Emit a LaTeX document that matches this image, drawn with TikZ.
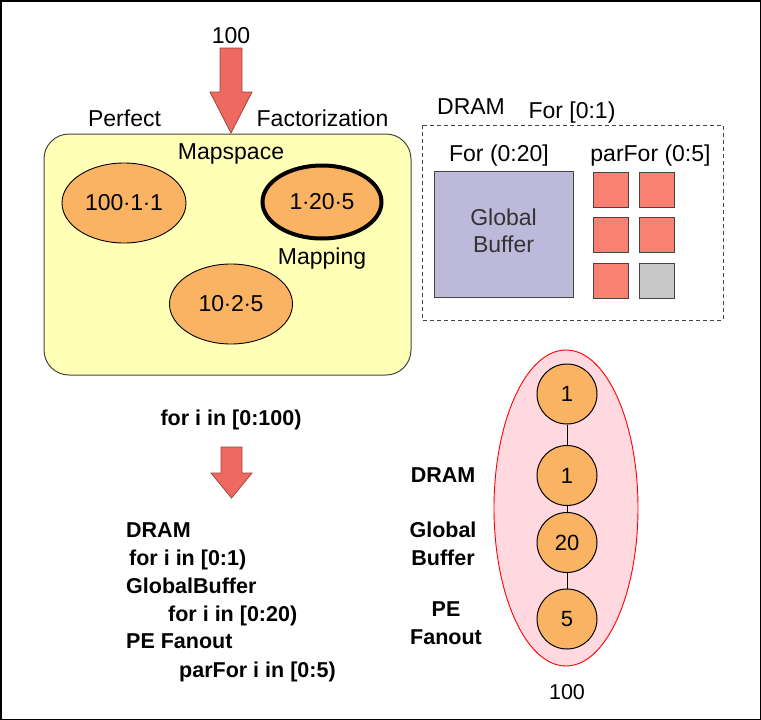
\documentclass[tikz,border=0pt]{standalone}
\usepackage{fontspec}
\setmainfont{Liberation Sans}
\usetikzlibrary{shapes.geometric}
\definecolor{arrowred}{HTML}{EE6A60}
\definecolor{arrowline}{HTML}{A0453D}
\definecolor{mapyellow}{HTML}{FFFFB5}
\definecolor{ellorange}{HTML}{FAB363}
\definecolor{gblav}{HTML}{BDB9DA}
\definecolor{pesalmon}{HTML}{FA8072}
\definecolor{pegray}{HTML}{C8C8C8}
\definecolor{loopink}{HTML}{FFD9DF}
\definecolor{edgegray}{HTML}{444444}
\tikzset{
  txt/.style={font=\fontsize{23}{27}\selectfont, inner sep=0pt, anchor=base},
  btxt/.style={font=\fontsize{21.5}{26}\selectfont\bfseries, inner sep=0pt, anchor=base},
  blefttxt/.style={btxt, anchor=base west},
  factell/.style={ellipse, draw=black, fill=ellorange, line width=0.9pt, inner sep=0pt, font=\fontsize{23}{27}\selectfont},
  pebox/.style={draw=edgegray, fill=pesalmon, line width=0.9pt, minimum size=35pt, inner sep=0pt},
  loopcirc/.style={circle, draw=black, fill=ellorange, line width=1pt, minimum size=60pt, inner sep=0pt, font=\fontsize{22}{26}\selectfont},
  blockarrow/.style={fill=arrowred, draw=arrowline, line width=0.8pt, line join=miter}
}
\begin{document}
\begin{tikzpicture}[x=1pt,y=-1pt]
\useasboundingbox (0,0) rectangle (761,720);
\draw[line width=1.5pt] (0.75,0.75) rectangle (760.25,719.25);

% top arrow
\node[txt] (n100top) at (231,43) {100};
\draw[blockarrow] (220,48) -- (242,48) -- (242,92) -- (252,92) -- (231,133) -- (210,92) -- (220,92) -- cycle;
\node[txt] (perfect) at (124.5,126) {Perfect};
\node[txt] (factor) at (322.5,126) {Factorization};

% mapspace
\draw[draw=edgegray, fill=mapyellow, line width=1pt, rounded corners=25pt] (44,134) rectangle (411,375);
\node[txt] (mapspace) at (231,159) {Mapspace};
\node[factell, minimum width=124pt, minimum height=80pt] (e1) at (124,203) {100$\cdot$1$\cdot$1};
\node[factell, minimum width=119pt, minimum height=73pt, line width=4pt] (e2) at (322,202) {1$\cdot$20$\cdot$5};
\node[txt] (mapping) at (322,264) {Mapping};
\node[factell, minimum width=123pt, minimum height=80pt] (e3) at (231,304) {10$\cdot$2$\cdot$5};

% architecture
\node[txt] (dramlab) at (471,114) {DRAM};
\node[txt] (forlab) at (572,118) {For [0:1)};
\draw[draw=edgegray, dashed, dash pattern=on 4pt off 3pt, line width=0.9pt] (422,125) rectangle (723,320);
\node[txt] (for20) at (499,161) {For (0:20]};
\node[txt] (parfor) at (650.5,161) {parFor (0:5]};
\node[draw=edgegray, fill=gblav, line width=0.9pt, minimum width=139pt, minimum height=126pt, inner sep=0pt] (gb) at (503.5,234) {};
\node[txt, text=black!80] (gbt1) at (503.5,225) {Global};
\node[txt, text=black!80] (gbt2) at (503.5,252.7) {Buffer};
\node[pebox] (p1) at (610.5,189.5) {};
\node[pebox] (p2) at (656.5,189.5) {};
\node[pebox] (p3) at (610.5,234.5) {};
\node[pebox] (p4) at (656.5,234.5) {};
\node[pebox] (p5) at (610.5,280.5) {};
\node[pebox, fill=pegray] (p6) at (656.5,280.5) {};

% loop nest text
\node[btxt] (forall) at (231,425.5) {for i in [0:100)};
\draw[blockarrow] (221,447) -- (242,447) -- (242,473) -- (252,473) -- (231.5,498) -- (211,473) -- (221,473) -- cycle;
\node[blefttxt] (l1) at (126,537.5) {DRAM};
\node[blefttxt] (l2) at (129,565.5) {for i in [0:1)};
\node[blefttxt] (l3) at (126,593.5) {GlobalBuffer};
\node[blefttxt] (l4) at (168,621.5) {for i in [0:20)};
\node[blefttxt] (l5) at (126,648.5) {PE Fanout};
\node[blefttxt] (l6) at (179,677.5) {parFor i in [0:5)};

% loop tree
\node[ellipse, draw=red, fill=loopink, line width=0.9pt, minimum width=144pt, minimum height=316pt, inner sep=0pt] (tree) at (566,508) {};
\node[loopcirc] (c1) at (567,394) {1};
\node[loopcirc] (c2) at (567,475.5) {1};
\node[loopcirc] (c3) at (567,542.5) {20};
\node[loopcirc] (c4) at (567,619) {5};
\draw[line width=1pt] (c1) -- (c2);
\draw[line width=1pt] (c2) -- (c3);
\draw[line width=1pt] (c3) -- (c4);
\node[txt, font=\fontsize{21.5}{26}\selectfont] (n100bot) at (567,699) {100};
\node[btxt] (r1) at (443,482.5) {DRAM};
\node[btxt] (r2) at (443,537.5) {Global};
\node[btxt] (r3) at (443,565.5) {Buffer};
\node[btxt] (r4) at (446,616.5) {PE};
\node[btxt] (r5) at (446,644.5) {Fanout};
\end{tikzpicture}
\end{document}
